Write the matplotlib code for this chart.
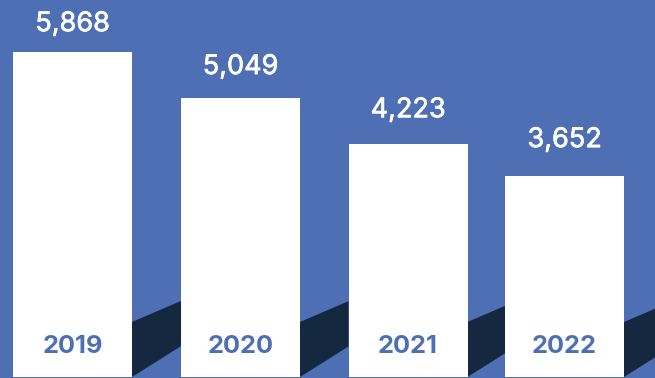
import matplotlib.pyplot as plt
import matplotlib.patheffects as pe
from matplotlib.patches import Polygon

# Yearly totals
years = ['2019', '2020', '2021', '2022']
totals = [5868, 5049, 4223, 3652]

bg_blue = '#4f6fb5'
shadow_navy = '#14293f'

# Bar layout, in pixel-like x units
centers = [72.5, 240.5, 408, 564.5]
bar_w = 119
fig_w, fig_h = 655, 378

fig = plt.figure(figsize=(fig_w / 100, fig_h / 100), dpi=100)
fig.patch.set_facecolor(bg_blue)
ax = fig.add_axes([0, 1 / fig_h, 1, 377 / fig_h])
ax.set_facecolor(bg_blue)
ax.set_xlim(0, fig_w)
ax.set_ylim(61, 6798)
ax.axis('off')

ax.bar(centers, totals, width=bar_w, color='white', zorder=3)

# Slanted shadow band between bars
shade_top = 1044
lo_base = 61
for i, c in enumerate(centers):
    x0 = c + bar_w / 2
    x1 = centers[i + 1] - bar_w / 2 if i + 1 < len(centers) else fig_w + 5
    g = x1 - x0
    pts = [(x0, lo_base), (x0, shade_top),
           (x1, shade_top + 7.68 * g), (x1, lo_base + 11.26 * g)]
    ax.add_patch(Polygon(pts, closed=True, facecolor=shadow_navy,
                         edgecolor='none', zorder=2))

# thicken the regular weight a touch
medium = [pe.withStroke(linewidth=0.5, foreground='white')]

for c, v, yr in zip(centers, totals, years):
    # value labels sit a little closer over the taller bars
    ax.text(c, 754 + 0.935 * v, f'{v:,}', ha='center', va='baseline',
            color='white', fontsize=19.5, family='Inter', zorder=4,
            path_effects=medium)
    ax.text(c, 490, yr, ha='center', va='baseline', color=bg_blue,
            fontsize=18.3, family='Inter', weight='bold', zorder=4)

fig.savefig('out.png', dpi=100, facecolor=bg_blue)
